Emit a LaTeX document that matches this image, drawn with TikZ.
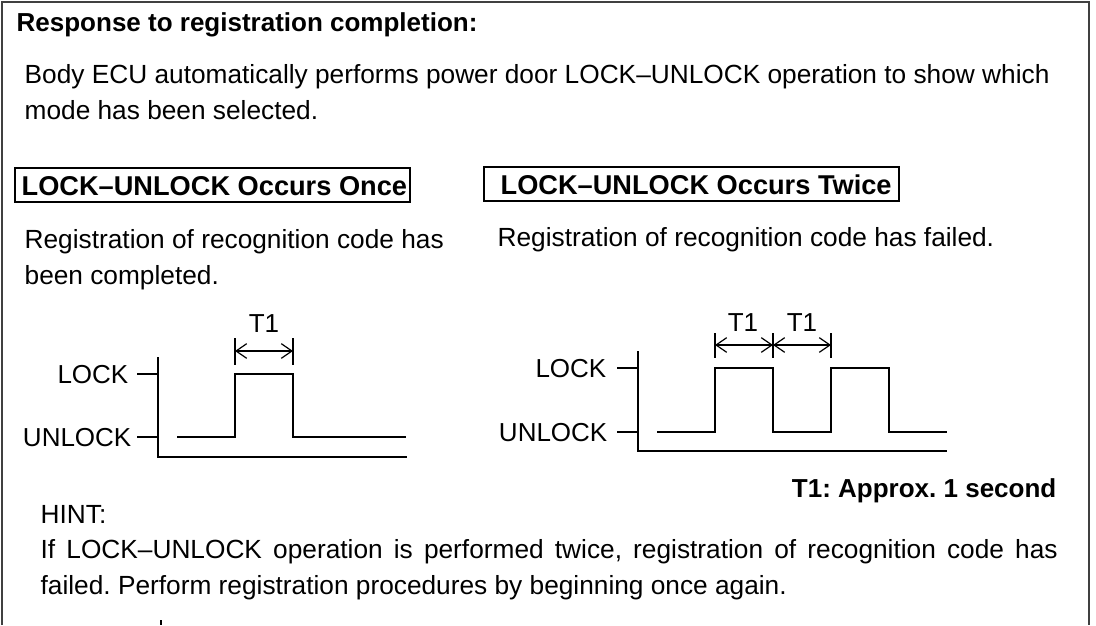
\documentclass[tikz,border=0pt]{standalone}
\usepackage{fontspec}
\setmainfont{Liberation Sans}
\usetikzlibrary{arrows.meta}
\frenchspacing
\begin{document}
\begin{tikzpicture}[x=0.75pt,y=-0.75pt,
  line width=1pt,
  txt/.style={inner sep=0pt,anchor=base west,font=\fontsize{19.7}{24}\selectfont\frenchspacing},
  ttl/.style={inner sep=0pt,anchor=base west,font=\fontsize{19.5}{24}\selectfont\bfseries\frenchspacing},
  boxtxt/.style={inner sep=0pt,anchor=base west,font=\fontsize{20.4}{24}\selectfont\bfseries},
  lvl/.style={inner sep=0pt,anchor=base east,font=\fontsize{19.5}{24}\selectfont},
  tlab/.style={inner sep=0pt,anchor=base,font=\fontsize{19.5}{24}\selectfont},
  dim/.style={{Straight Barb[length=8pt,width=11pt]}-{Straight Barb[length=8pt,width=11pt]}, line width=0.9pt},
  frame/.style={line width=1.5pt,draw=black!75}
]
\useasboundingbox (0,0) rectangle (1096,625);
% outer frame (open at bottom)
\draw[frame] (2,625) -- (2,2) -- (1089,2) -- (1089,625);
\draw[line width=1.5pt] (161,620) -- (161,625);

\node[ttl] (title) at (16,31) {Response to registration completion:};
\node[txt] (b1) at (24,83) {Body ECU automatically performs power door LOCK–UNLOCK operation to show which};
\node[txt] (b2) at (24,119) {mode has been selected.};

% mode boxes
\draw (15,168) rectangle (410,202);
\node[boxtxt] (once) at (21,195) {LOCK–UNLOCK Occurs Once};
\draw (484,167) rectangle (899,201);
\node[boxtxt] (twice) at (500,194) {LOCK–UNLOCK Occurs Twice};

\node[txt] (l1) at (24,248) {Registration of recognition code has};
\node[txt] (l2) at (24,284) {been completed.};
\node[txt] (r1) at (497,246) {Registration of recognition code has failed.};

% ---- left timing diagram
\node[tlab] (lt) at (264,332) {T1};
\draw (235,338) -- (235,365);
\draw (293,338) -- (293,365);
\draw[dim] (235,351) -- (293,351);
\node[lvl] (llock) at (129,383) {LOCK};
\node[lvl] (lunlock) at (132,446) {UNLOCK};
\draw (137,374) -- (158,374);
\draw (137,437) -- (158,437);
\draw (158,357) -- (158,457) -- (407,457);
\draw (177,437) -- (235,437) -- (235,374) -- (293,374) -- (293,437) -- (406,437);

% ---- right timing diagram
\node[tlab] (rt1) at (743,331) {T1};
\node[tlab] (rt2) at (802,331) {T1};
\draw (715,333) -- (715,358);
\draw (773,333) -- (773,358);
\draw (831,333) -- (831,358);
\draw[dim] (715,345) -- (773,345);
\draw[dim] (773,345) -- (831,345);
\node[lvl] (rlock) at (607,377) {LOCK};
\node[lvl] (runlock) at (608,441) {UNLOCK};
\draw (617,368) -- (638,368);
\draw (617,432) -- (638,432);
\draw (638,351) -- (638,451) -- (947,451);
\draw (657,432) -- (715,432) -- (715,368) -- (773,368) -- (773,432) -- (831,432) -- (831,368) -- (889,368) -- (889,432) -- (947,432);

\node[ttl,anchor=base east] (t1note) at (1057,497) {T1: Approx. 1 second};

\node[txt] (hint) at (40,523) {HINT:};
\node[txt] (h1) at (40,558) {\makebox[762.75pt][s]{If LOCK–UNLOCK operation is performed twice, registration of recognition code has}};
\node[txt] (h2) at (40,594) {failed. Perform registration procedures by beginning once again.};
\end{tikzpicture}
\end{document}
